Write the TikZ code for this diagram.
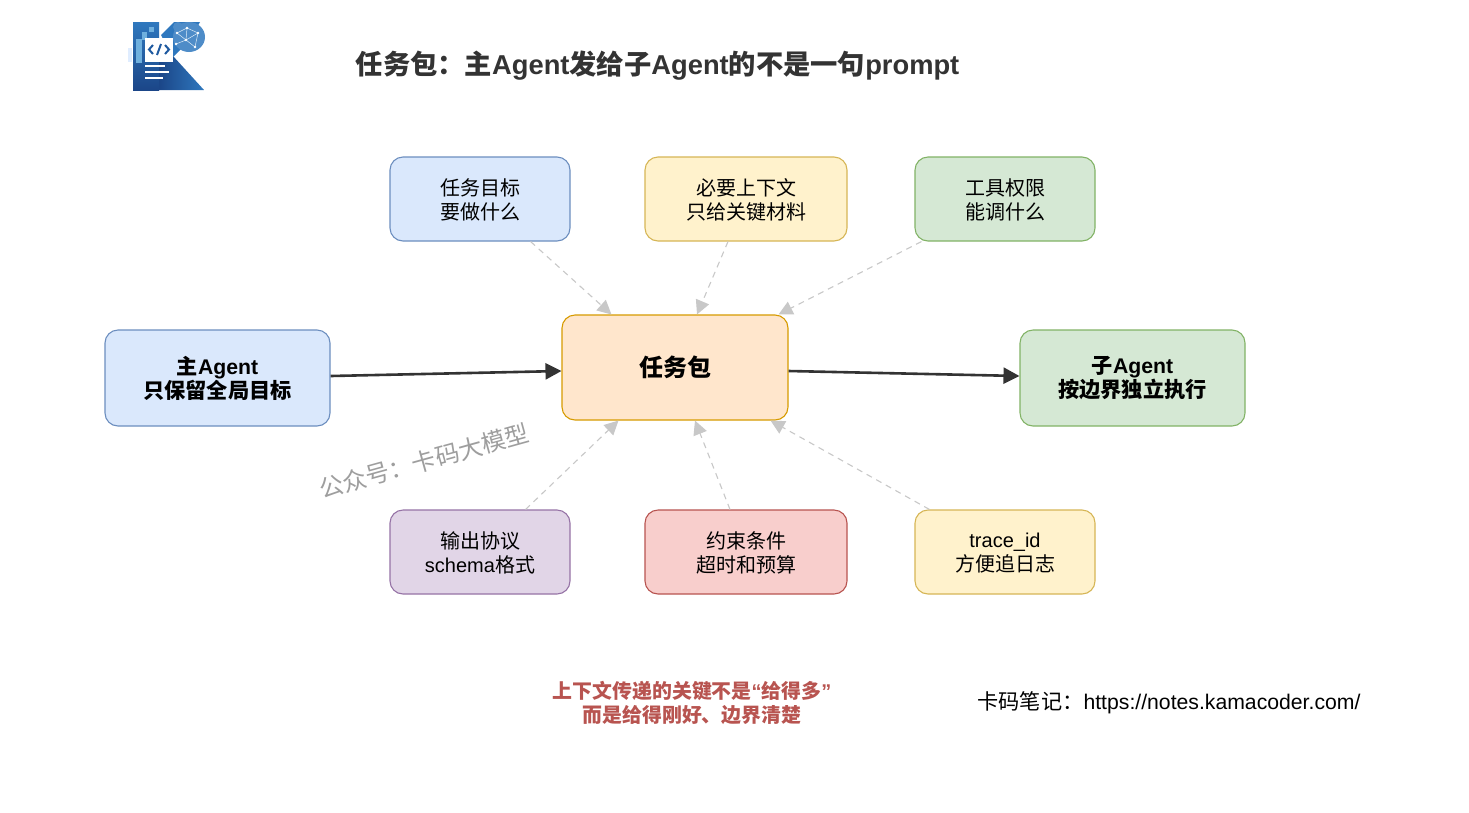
\documentclass[tikz,border=0pt]{standalone}
\usepackage{fontspec}
\setmainfont{Liberation Sans}
\newfontfamily\cjk{Noto Sans CJK SC}
\usetikzlibrary{arrows.meta,calc}
\newcommand{\zh}[1]{{\cjk #1}}
\definecolor{paleblue}{HTML}{DAE8FC}
\definecolor{lineblue}{HTML}{6C8EBF}
\definecolor{paleyellow}{HTML}{FFF2CC}
\definecolor{lineyellow}{HTML}{D6B656}
\definecolor{palegreen}{HTML}{D5E8D4}
\definecolor{linegreen}{HTML}{82B366}
\definecolor{palepurple}{HTML}{E1D5E7}
\definecolor{linepurple}{HTML}{9673A6}
\definecolor{palered}{HTML}{F8CECC}
\definecolor{linered}{HTML}{B85450}
\definecolor{paleorange}{HTML}{FFE6CC}
\definecolor{lineorange}{HTML}{D79B00}
\definecolor{darkline}{HTML}{333333}
\definecolor{softline}{HTML}{C8C8C8}
\definecolor{noteRed}{HTML}{B85450}
\definecolor{logoblue}{HTML}{1F5AA0}
\definecolor{logodark}{HTML}{1B4688}
\definecolor{logomid}{HTML}{2F78BE}
\definecolor{logolight}{HTML}{6FB0DE}

\begin{document}
\begin{tikzpicture}[x=1pt,y=-1pt,
	box/.style={draw,line width=1.1pt,rounded corners=13pt,align=center,text=black,inner sep=0pt,font=\fontsize{20}{24}\selectfont},
	small/.style={box,minimum height=84pt,text depth=0pt},
	big/.style={box,minimum width=225pt,minimum height=96pt,font=\fontsize{21.2}{24}\selectfont\bfseries},
	feed/.style={draw=softline,line width=1.1pt,dash pattern=on 6pt off 5pt,-{Triangle[length=14pt,width=14pt,fill=softline,color=softline,sep=0pt]}},
	flow/.style={draw=darkline,line width=2.6pt,-{Triangle[length=16pt,width=16pt]}},
	]
	\useasboundingbox (0,0) rectangle (1469,812);
	\fill[white] (0,0) rectangle (1469,812);
	% logo
	\shade[top color=logomid,bottom color=logodark] (133,22) rectangle (159,90);
	\shade[left color=logodark,right color=logomid] (159,60) -- (173,56) -- (204,90) -- (159,90) -- cycle;
	\fill[logomid] (161,35) -- (174,22) -- (200,22) -- (190,40) -- (173,57) -- cycle;
	\fill[logomid!85!white] (189,37) ellipse (16 and 15);
	\fill[logomid!85!white] (178,27) circle (5);
	\fill[logolight] (149,27) rectangle (154,32);
	\fill[logolight] (142,32) rectangle (147,40);
	\fill[logolight] (136,39) rectangle (142,63);
	\fill[blue!60!cyan!12] (128,48) rectangle (132,62);
	\foreach \a/\b/\c/\d in {177/33/187/28,187/28/198/33,177/33/186/40,186/40/198/33,186/40/195/47,186/40/176/44,187/28/186/40,198/33/195/47}
		\draw[white!75!logolight,line width=.5pt] (\a,\b) -- (\c,\d);
	\foreach \a/\b in {177/33,187/28,198/33,186/40,195/47,176/44}
		\fill[white] (\a,\b) circle (1.3);
	\fill[white] (145,38) rectangle (173,62);
	\draw[logoblue,line width=2pt] (153,45) -- (149,49.5) -- (153,54);
	\draw[logoblue,line width=2pt] (165,45) -- (169,49.5) -- (165,54);
	\draw[logoblue,line width=2pt] (161,44) -- (157,55);
	\fill[white] (145,65) rectangle (165,67);
	\fill[white] (145,70.5) rectangle (169,72.5);
	\fill[white] (145,77) rectangle (163,79);

	% title
	\node[font=\fontsize{27.3}{30}\selectfont\bfseries,text=darkline,inner sep=0pt] (title) at (657.5,65.5) {\zh{任务包：主}Agent\zh{发给子}Agent\zh{的不是一句}prompt};

	% nodes
	\node[big,draw=lineblue,fill=paleblue] (mainagent) at (217.5,378) {\zh{主}Agent\\\zh{只保留全局目标}};
	\node[box,draw=lineorange,fill=paleorange,minimum width=226pt,minimum height=105pt,font=\fontsize{24}{28}\selectfont\bfseries] (pack) at (675,367.5) {\zh{任务包}};
	\node[big,draw=linegreen,fill=palegreen] (subagent) at (1132.5,378) {\zh{子}Agent\\\zh{按边界独立执行}};

	\node[small,minimum width=180pt,draw=lineblue,fill=paleblue] (goal) at (480,199) {\zh{任务目标}\\\zh{要做什么}};
	\node[small,minimum width=202pt,draw=lineyellow,fill=paleyellow] (context) at (746,199) {\zh{必要上下文}\\\zh{只给关键材料}};
	\node[small,minimum width=180pt,draw=linegreen,fill=palegreen] (tools) at (1005,199) {\zh{工具权限}\\\zh{能调什么}};
	\node[small,minimum width=180pt,draw=linepurple,fill=palepurple] (output) at (480,552) {\zh{输出协议}\\schema\zh{格式}};
	\node[small,minimum width=202pt,draw=linered,fill=palered] (limits) at (746,552) {\zh{约束条件}\\\zh{超时和预算}};
	\node[small,minimum width=180pt,draw=lineyellow,fill=paleyellow] (trace) at (1005,552) {trace\_id\\\zh{方便追日志}};

	% connectors
	\draw[flow] ([yshift=2pt]mainagent.east) -- ([yshift=-3.5pt]pack.west);
	\draw[flow] ([yshift=-3.5pt]pack.east) -- ([yshift=2pt]subagent.west);
	\draw[feed] ([xshift=-40pt]goal.south east) -- ([xshift=50pt]pack.north west);
	\draw[feed] ([xshift=-18pt]context.south) -- ([xshift=22pt]pack.north);
	\draw[feed] ([xshift=7pt]tools.south west) -- ([xshift=-10pt]pack.north east);
	\draw[feed] ([xshift=-45pt]output.north east) -- ([xshift=57pt]pack.south west);
	\draw[feed] ([xshift=-16pt]limits.north) -- ([xshift=20pt]pack.south);
	\draw[feed] ([xshift=15pt]trace.north west) -- ([xshift=-18pt]pack.south east);

	% watermark and notes
	\node[rotate=15.5,font=\fontsize{24}{28}\selectfont,text=black!38,inner sep=0pt] (mark) at (424,461) {\zh{公众号：卡码大模型}};
	\node[align=center,font=\fontsize{19.9}{24}\selectfont\bfseries,text=noteRed,inner sep=0pt] (note) at (692,702.5) {\zh{上下文传递的关键不是}“\zh{给得多}”\\\zh{而是给得刚好、边界清楚}};
	\node[font=\fontsize{21.2}{24}\selectfont,text=black,inner sep=0pt] (site) at (1169,702.5) {\zh{卡码笔记：}https://notes.kamacoder.com/};
\end{tikzpicture}
\end{document}
